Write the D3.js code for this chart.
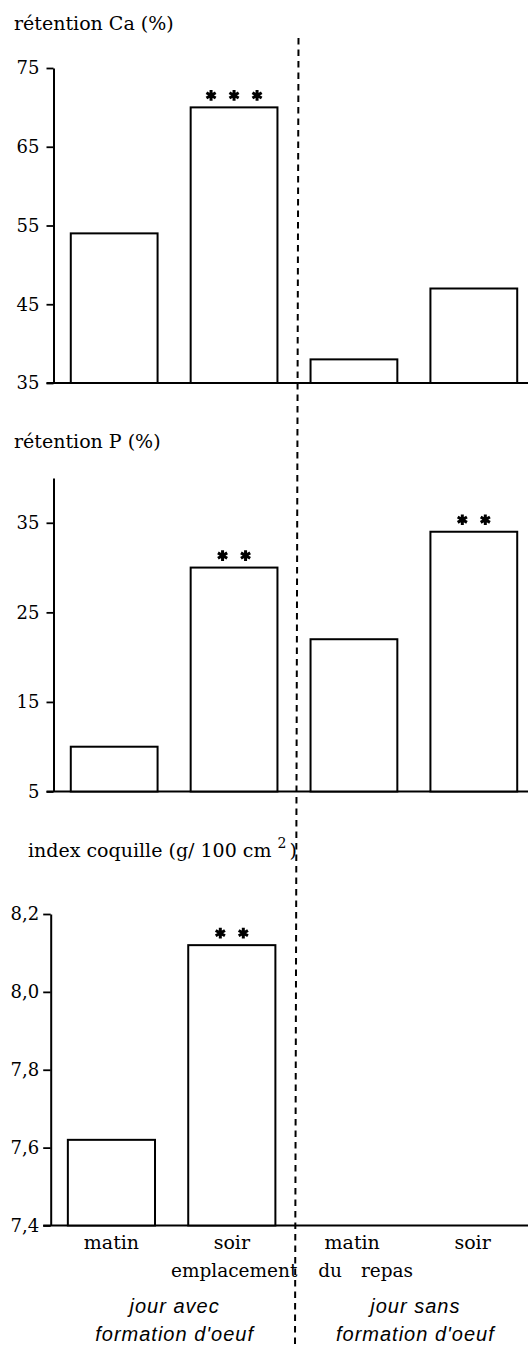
<!DOCTYPE html>
<html>
<head>
<meta charset="utf-8">
<script src="https://cdn.jsdelivr.net/npm/d3@7"></script>
<style>
  body { margin: 0; background: #fff; }
  svg { display: block; }
</style>
</head>
<body>
<svg id="chart" width="528" height="1347"></svg>
<script>
// Meal timing categories (two days x two meal times)
const categories = ["avec-matin", "avec-soir", "sans-matin", "sans-soir"];
const mealLabels = ["matin", "soir", "matin", "soir"];
const groupLabels = [["jour avec", "formation d'oeuf"], ["jour sans", "formation d'oeuf"]];

// Measured values
const caRetention = [54, 70, 38, 47];
const pRetention = [10, 30, 22, 34];
const shellIndex = [7.62, 8.12, null, null];

// Significance marks (number of asterisks per bar)
const caStars = [0, 3, 0, 0];
const pStars = [0, 2, 0, 2];
const shellStars = [0, 2, 0, 0];

// Axis ticks
const caTicks = [35, 45, 55, 65, 75];
const pTicks = [5, 15, 25, 35];
const shellTicks = [7.4, 7.6, 7.8, 8.0, 8.2];

const SERIF = "'DejaVu Serif', serif";
const svg = d3.select("#chart");

const panels = [
  {
    title: "rétention Ca (%)", titleX: 14, titleY: 30,
    values: caRetention, stars: caStars, ticks: caTicks,
    domain: [35, 75], yRange: [383, 68],
    xRange: [54, 534], axisX: 53.5, tickSize: 7, pad: 7,
    format: d3.format("d")
  },
  {
    title: "rétention P (%)", titleX: 14, titleY: 448,
    values: pRetention, stars: pStars, ticks: pTicks,
    domain: [5, 40], yRange: [791.5, 478],
    xRange: [54, 534], axisX: 53.5, tickSize: 7, pad: 7,
    format: d3.format("d")
  },
  {
    title: "index coquille (g/ 100 cm", sup: "2", titleX: 28, titleY: 857,
    values: shellIndex, stars: shellStars, ticks: shellTicks,
    domain: [7.4, 8.2], yRange: [1225.5, 914],
    xRange: [51, 533], axisX: 50.7, tickSize: 7.5, pad: 4,
    format: d => d.toFixed(1).replace(".", ","),
    showLabels: true
  }
];

panels.forEach(p => {
  const g = svg.append("g");
  const x = d3.scaleBand().domain(categories).range(p.xRange)
    .paddingInner(0.276).paddingOuter(0.14);
  const y = d3.scaleLinear().domain(p.domain).range(p.yRange);
  const y0 = y(p.domain[0]);

  // Panel title
  const t = g.append("text")
    .attr("x", p.titleX).attr("y", p.titleY)
    .attr("font-family", SERIF).attr("font-size", 19).attr("fill", "#000")
    .text(p.title);
  if (p.sup) {
    t.append("tspan").attr("dx", 6).attr("dy", -9).attr("font-size", 14).text(p.sup);
    t.append("tspan").attr("dx", 3).attr("dy", 9).text(")");
  }

  // Value axis
  const ax = g.append("g")
    .attr("transform", `translate(${p.axisX},0)`)
    .call(d3.axisLeft(y).tickValues(p.ticks).tickFormat(p.format)
      .tickSize(p.tickSize).tickSizeOuter(0).tickPadding(p.pad))
    .attr("font-family", SERIF).attr("font-size", 18);
  ax.select(".domain").attr("stroke", "#000").attr("stroke-width", 2);
  ax.selectAll(".tick line").attr("stroke", "#000").attr("stroke-width", 1.8);
  ax.selectAll(".tick text").attr("fill", "#000");

  // Baseline
  g.append("line")
    .attr("x1", p.axisX - p.tickSize).attr("x2", 528)
    .attr("y1", y0).attr("y2", y0)
    .attr("stroke", "#000").attr("stroke-width", 2);

  // Bars
  const rows = categories.map((c, i) => ({ c, v: p.values[i], s: p.stars[i] }))
    .filter(d => d.v != null);
  g.selectAll("rect.bar").data(rows).join("rect")
    .attr("class", "bar")
    .attr("x", d => x(d.c)).attr("y", d => y(d.v))
    .attr("width", x.bandwidth()).attr("height", d => y0 - y(d.v))
    .attr("fill", "#fff").attr("stroke", "#000").attr("stroke-width", 2);

  // Significance asterisks
  const star = d3.symbol(d3.symbolAsterisk, 80);
  rows.filter(d => d.s > 0).forEach(d => {
    const cx = x(d.c) + x.bandwidth() / 2;
    d3.range(d.s).forEach(k => {
      g.append("path")
        .attr("d", star)
        .attr("transform", `translate(${cx + (k - (d.s - 1) / 2) * 23},${y(d.v) - 12})`)
        .attr("fill", "none").attr("stroke", "#000").attr("stroke-width", 3);
    });
  });

  if (p.showLabels) {
    // Meal-time labels
    const xa = g.append("g")
      .attr("transform", `translate(0,${y0})`)
      .call(d3.axisBottom(x).tickFormat((d, i) => mealLabels[i]).tickSize(0).tickPadding(10))
      .attr("font-family", SERIF).attr("font-size", 19);
    xa.select(".domain").remove();
    xa.selectAll(".tick text").attr("fill", "#000");

    const centers = categories.map(c => x(c) + x.bandwidth() / 2);
    const mid = d3.mean(centers);
    const cap = g.append("text")
      .attr("x", mid).attr("y", y0 + 51)
      .attr("text-anchor", "middle")
      .attr("font-family", SERIF).attr("font-size", 18.5).attr("fill", "#000")
      .style("white-space", "pre");
    cap.append("tspan").text("emplacement");
    cap.append("tspan").attr("dx", 15).text(" du");
    cap.append("tspan").attr("dx", 13).text(" repas");

    groupLabels.forEach((lines, gi) => {
      const gx = (centers[gi * 2] + centers[gi * 2 + 1]) / 2 + 3;
      lines.forEach((line, li) => {
        g.append("text")
          .attr("x", gx).attr("y", y0 + 87 + li * 28)
          .attr("text-anchor", "middle")
          .attr("font-family", "'Liberation Sans', Arial, sans-serif")
          .attr("font-style", "italic").attr("font-size", 20)
          .attr("letter-spacing", 1).attr("fill", "#000")
          .text(line);
      });
    });
  }
});

// Dashed separator between the two day types
svg.append("line")
  .attr("x1", 298.5).attr("y1", 38)
  .attr("x2", 295).attr("y2", 1347)
  .attr("stroke", "#000").attr("stroke-width", 2)
  .attr("stroke-dasharray", "6.5 5");
</script>
</body>
</html>
